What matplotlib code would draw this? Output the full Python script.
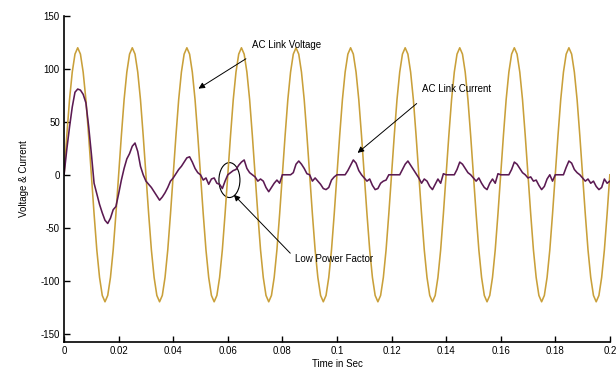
import numpy as np
import matplotlib
matplotlib.use("Agg")
import matplotlib.pyplot as plt
from matplotlib.patches import Ellipse

plt.rcParams['font.family'] = ['Liberation Sans', 'DejaVu Sans']
plt.rcParams['axes.unicode_minus'] = False

# 采样间隔 1 ms, 0 ~ 0.2 s
dt = 0.001
t = np.arange(201) * dt

# AC link voltage (1 ms samples)
voltage = [
    0, 37, 71, 97, 114, 120, 114, 97, 71, 37, 0, -37, -71, -97, -114, -120, -114, -97, -71, -37,
    0, 37, 71, 97, 114, 120, 114, 97, 71, 37, 0, -37, -71, -97, -114, -120, -114, -97, -71, -37,
    0, 37, 71, 97, 114, 120, 114, 97, 71, 37, 0, -37, -71, -97, -114, -120, -114, -97, -71, -37,
    0, 37, 71, 97, 114, 120, 114, 97, 71, 37, 0, -37, -71, -97, -114, -120, -114, -97, -71, -37,
    0, 37, 71, 97, 114, 120, 114, 97, 71, 37, 0, -37, -71, -97, -114, -120, -114, -97, -71, -37,
    0, 37, 71, 97, 114, 120, 114, 97, 71, 37, 0, -37, -71, -97, -114, -120, -114, -97, -71, -37,
    0, 37, 71, 97, 114, 120, 114, 97, 71, 37, 0, -37, -71, -97, -114, -120, -114, -97, -71, -37,
    0, 37, 71, 97, 114, 120, 114, 97, 71, 37, 0, -37, -71, -97, -114, -120, -114, -97, -71, -37,
    0, 37, 71, 97, 114, 120, 114, 97, 71, 37, 0, -37, -71, -97, -114, -120, -114, -97, -71, -37,
    0, 37, 71, 97, 114, 120, 114, 97, 71, 37, 0, -37, -71, -97, -114, -120, -114, -97, -71, -37,
    0,
]

# AC link current (1 ms samples)
current = [
    0, 24, 45, 64, 78, 81, 80, 76, 68, 46, 20, -8, -18, -28, -36, -43, -46, -41, -33, -30,
    -18, -5, 6, 15, 20, 27, 30, 22, 8, 0, -6, -9, -12, -16, -20, -24, -21, -17, -12, -6,
    -3, 1, 5, 8, 12, 16, 17, 12, 6, 2, 0, -5, -3, -9, -4, -3, -8, -9, -13, -6,
    0, 2, 4, 5, 9, 12, 14, 6, 2, 0, -2, -6, -4, -6, -12, -16, -12, -8, -5, -8,
    0, 0, 0, 0, 2, 10, 13, 10, 6, 1, 0, -6, -3, -6, -9, -13, -14, -12, -5, -2,
    0, 0, 0, 0, 4, 9, 14, 11, 4, 0, -3, -6, -4, -10, -14, -13, -8, -6, -5, 0,
    0, 0, 0, 0, 5, 10, 13, 9, 5, 1, -3, -8, -4, -6, -11, -14, -9, -4, -8, 1,
    0, 0, 0, 0, 5, 12, 10, 6, 2, 0, -3, -6, -3, -8, -12, -14, -8, -4, -8, 1,
    0, 0, 0, 0, 5, 12, 10, 6, 2, 0, -3, -2, -6, -5, -10, -14, -11, -4, 0, -6,
    0, 0, 0, 0, 7, 13, 11, 5, 2, 0, -3, -6, -4, -8, -6, -11, -14, -12, -4, -8,
    -6,
]

fig = plt.figure(figsize=(6.16, 3.76), dpi=100)
ax = fig.add_axes([0.104, 0.0904, 0.886, 0.867])

ax.plot(t, voltage, color='#C9A03A', lw=1.15)
ax.plot(t, current, color='#5B1A52', lw=1.15)

ax.set_xlim(0, 0.2)
ax.set_ylim(-158, 150)
ax.set_xticks(np.arange(0, 0.201, 0.02))
ax.set_xticklabels(['0', '0.02', '0.04', '0.06', '0.08', '0.1', '0.12',
                    '0.14', '0.16', '0.18', '0.2'])
ax.set_yticks([-150, -100, -50, 0, 50, 100, 150])
ax.tick_params(direction='in', length=4, width=1, labelsize=7, pad=3)
for s in ['top', 'right']:
    ax.spines[s].set_visible(False)
for s in ['left', 'bottom']:
    ax.spines[s].set_linewidth(1.2)

ax.set_xlabel('Time in Sec', fontsize=7, labelpad=2)
ax.set_ylabel('Voltage & Current', fontsize=7, labelpad=8)

# 标注文字 + 箭头
arrow = dict(arrowstyle='-|>', color='black', lw=0.7, mutation_scale=9)
ax.text(0.069, 123, 'AC Link Voltage', fontsize=7, va='center', ha='left')
ax.annotate('', xy=(0.0484, 80), xytext=(0.0675, 111), arrowprops=arrow)
ax.text(0.131, 81, 'AC Link Current', fontsize=7, va='center', ha='left')
ax.annotate('', xy=(0.1068, 19), xytext=(0.130, 69), arrowprops=arrow)
ax.text(0.0848, -80, 'Low Power Factor', fontsize=7, va='center', ha='left')
ax.annotate('', xy=(0.0615, -17), xytext=(0.0836, -76), arrowprops=arrow)

ax.add_patch(Ellipse((0.0606, -5), 0.0077, 33, fill=False, ec='black', lw=0.8))

fig.savefig('out.png', dpi=100)
